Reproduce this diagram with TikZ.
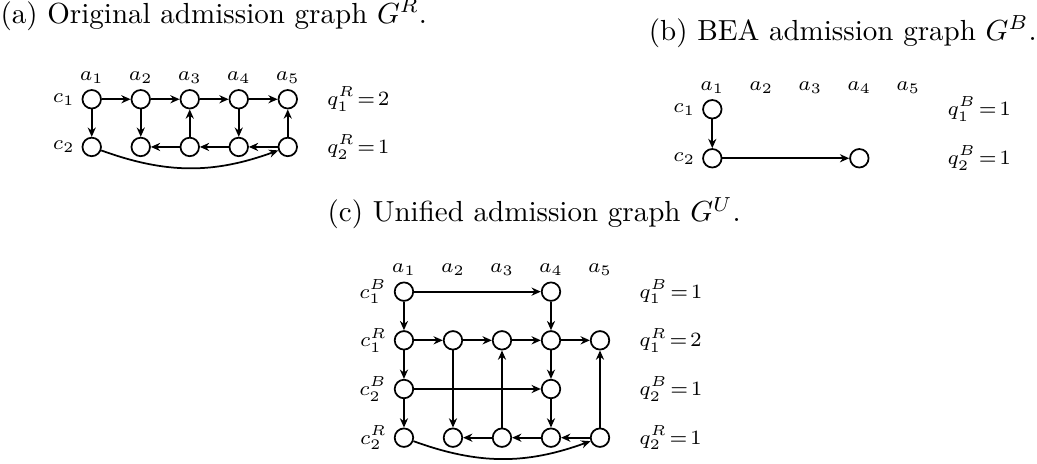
\documentclass[tikz,border=0pt]{standalone}
\usepackage{amsmath}
\usepackage{tikz}
\usetikzlibrary{arrows.meta}

\begin{document}
\begin{tikzpicture}[>={Stealth[length=3.2pt,width=2.8pt]},
  vert/.style={circle,draw,semithick,minimum size=0.224cm,inner sep=0pt},
  edge/.style={semithick,->},
  lbl/.style={font=\scriptsize,inner sep=0pt},
  subcap/.style={anchor=base west,inner sep=0pt}]
  \useasboundingbox (0,0) rectangle (12.548,5.614);
  % (a) original graph
  \node[subcap] (capA) at (0,5.33) {(a) Original admission graph $G^R$.};
  \begin{scope}[shift={(1.110,4.413)}]
    \foreach \j in {1,...,5}{
      \node[lbl,anchor=base] (Aa\j) at ({(\j-1)*0.593},0.228) {$a_\j$};
      \node[vert] (A1\j) at ({(\j-1)*0.593},0) {};
      \node[vert] (A2\j) at ({(\j-1)*0.593},-0.577) {};
    }
    \node[lbl,anchor=east] (Ac1) at (-0.2,0) {$c_1$};
    \node[lbl,anchor=east] (Ac2) at (-0.2,-0.577) {$c_2$};
    \node[lbl,anchor=west] (Aq1) at (2.84,0) {$q^R_1\!=\!2$};
    \node[lbl,anchor=west] (Aq2) at (2.84,-0.577) {$q^R_2\!=\!1$};
    \foreach \i/\k in {1/2,2/3,3/4,4/5}
      \draw[edge] (A1\i) -- (A1\k);
    \foreach \j in {1,2,4}
      \draw[edge] (A1\j) -- (A2\j);
    \foreach \j in {3,5}
      \draw[edge] (A2\j) -- (A1\j);
    \foreach \i/\k in {5/4,4/3,3/2}
      \draw[edge] (A2\i) -- (A2\k);
    \draw[edge] (A21) to[bend right=20] (A25);
  \end{scope}
  % (b) BEA graph
  \node[subcap] (capB) at (7.844,5.130) {(b) BEA admission graph $G^B$.};
  \begin{scope}[shift={(8.619,4.292)}]
    \foreach \j in {1,...,5}
      \node[lbl,anchor=base] (Ba\j) at ({(\j-1)*0.593},0.228) {$a_\j$};
    \node[vert] (B11) at (0,0) {};
    \node[vert] (B21) at (0,-0.593) {};
    \node[vert] (B24) at (3*0.593,-0.593) {};
    \node[lbl,anchor=east] (Bc1) at (-0.2,0) {$c_1$};
    \node[lbl,anchor=east] (Bc2) at (-0.2,-0.593) {$c_2$};
    \node[lbl,anchor=west] (Bq1) at (2.84,0) {$q^B_1\!=\!1$};
    \node[lbl,anchor=west] (Bq2) at (2.84,-0.593) {$q^B_2\!=\!1$};
    \draw[edge] (B11) -- (B21);
    \draw[edge] (B21) -- (B24);
  \end{scope}
  % (c) unified graph
  \node[subcap] (capC) at (3.957,2.928) {(c) Unified admission graph $G^U$.};
  \begin{scope}[shift={(4.888,2.085)}]
    \foreach \j in {1,...,5}{
      \node[lbl,anchor=base] (Ca\j) at ({(\j-1)*0.593},0.228) {$a_\j$};
      \node[vert] (C2\j) at ({(\j-1)*0.593},-0.589) {};
      \node[vert] (C4\j) at ({(\j-1)*0.593},-3*0.589) {};
    }
    \foreach \j in {1,4}{
      \node[vert] (C1\j) at ({(\j-1)*0.593},0) {};
      \node[vert] (C3\j) at ({(\j-1)*0.593},-2*0.589) {};
    }
    \foreach \r/\s/\q [count=\n from 0] in {B/1/1,R/1/2,B/2/1,R/2/1}{
      \node[lbl,anchor=east] (Cc\n) at (-0.2,-\n*0.589) {$c^\r_\s$};
      \node[lbl,anchor=west] (Cq\n) at (2.84,-\n*0.589) {$q^\r_\s\!=\!\q$};
    }
    \draw[edge] (C11) -- (C14);
    \draw[edge] (C31) -- (C34);
    \foreach \i/\k in {1/2,2/3,3/4,4/5}
      \draw[edge] (C2\i) -- (C2\k);
    \foreach \i/\k in {5/4,4/3,3/2}
      \draw[edge] (C4\i) -- (C4\k);
    \foreach \j in {1,4}{
      \draw[edge] (C1\j) -- (C2\j);
      \draw[edge] (C2\j) -- (C3\j);
      \draw[edge] (C3\j) -- (C4\j);
    }
    \draw[edge] (C22) -- (C42);
    \draw[edge] (C43) -- (C23);
    \draw[edge] (C45) -- (C25);
    \draw[edge] (C41) to[bend right=20] (C45);
  \end{scope}
\end{tikzpicture}
\end{document}
